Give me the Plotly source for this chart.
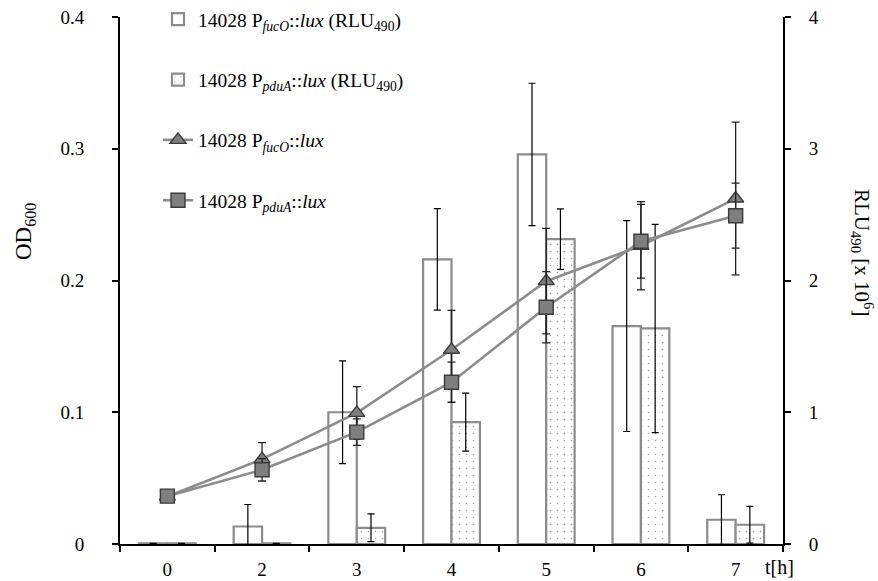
import plotly.graph_objects as go

# Sampling times (h) shown as categories
times = ["0", "2", "3", "4", "5", "6", "7"]

# Luminescence, RLU490 in units of 10^6 (right axis)
rlu_fuco = [0.005, 0.133, 1.0, 2.16, 2.957, 1.654, 0.184]
rlu_fuco_err = [None, 0.167, 0.39, 0.385, 0.54, 0.80, 0.19]
rlu_pdua = [0.005, 0.005, 0.123, 0.925, 2.314, 1.636, 0.146]
rlu_pdua_err = [None, None, 0.105, 0.22, 0.23, 0.79, 0.14]

# Growth, OD600 (left axis)
od_fuco = [0.036, 0.0644, 0.0995, 0.1474, 0.1995, 0.2264, 0.2622]
od_fuco_err = [0.002, 0.0125, 0.02, 0.03, 0.04, 0.0335, 0.058]
od_pdua = [0.0363, 0.0563, 0.0849, 0.1228, 0.1797, 0.2298, 0.2492]
od_pdua_err = [0.003, 0.0085, 0.01, 0.0152, 0.027, 0.028, 0.0247]

SERIF = "Liberation Serif, Times New Roman, serif"
BAR_EDGE = "#8c8c8c"
LINE_GREY = "#8c8c8c"
MARK_FILL = "#7f7f7f"
MARK_EDGE = "#3a3a3a"

# plot-area geometry in pixels (for placing free text)
W, H = 878, 581
L, R, T, B = 120, 95, 17, 37
PW, PH = W - L - R, H - T - B


def px_x(x):
    return (x - L) / PW


def px_y(y):
    return (H - B - y) / PH


fig = go.Figure()

bar_err = dict(type="data", visible=True, color="black", thickness=1.2, width=3.5)

fig.add_trace(go.Bar(
    x=times, y=rlu_fuco, yaxis="y",
    error_y=dict(array=rlu_fuco_err, **bar_err),
    name="14028 P<sub><i>fucO</i></sub>::<i>lux</i> (RLU<sub>490</sub>)",
    legendgroup="a",
    marker=dict(color="white", line=dict(color=BAR_EDGE, width=2.2)),
))
fig.add_trace(go.Bar(
    x=times, y=rlu_pdua, yaxis="y",
    error_y=dict(array=rlu_pdua_err, **bar_err),
    name="14028 P<sub><i>pduA</i></sub>::<i>lux</i> (RLU<sub>490</sub>)",
    legendgroup="b",
    marker=dict(color="white", line=dict(color=BAR_EDGE, width=2.2),
                pattern=dict(shape=".", size=7, solidity=0.04,
                             fgcolor="#333333", bgcolor="white")),
))

line_err = dict(type="data", visible=True, color="#222222", thickness=1.3, width=4)

fig.add_trace(go.Scatter(
    x=times, y=od_fuco, yaxis="y2", mode="lines+markers",
    error_y=dict(array=od_fuco_err, **line_err),
    name="14028 P<sub><i>fucO</i></sub>::<i>lux</i>",
    legendgroup="c",
    line=dict(color=LINE_GREY, width=2.6),
    marker=dict(symbol="triangle-up", size=14, color=MARK_FILL,
                line=dict(color=MARK_EDGE, width=1.4)),
))
fig.add_trace(go.Scatter(
    x=times, y=od_pdua, yaxis="y2", mode="lines+markers",
    error_y=dict(array=od_pdua_err, **line_err),
    name="14028 P<sub><i>pduA</i></sub>::<i>lux</i>",
    legendgroup="d",
    line=dict(color=LINE_GREY, width=2.6),
    marker=dict(symbol="square", size=14, color=MARK_FILL,
                line=dict(color=MARK_EDGE, width=1.4)),
))

axis_common = dict(
    showline=True, linecolor="black", linewidth=2,
    ticks="outside", tickcolor="black", tickwidth=2, ticklen=6,
    showgrid=False, zeroline=False,
    tickfont=dict(family=SERIF, size=19, color="black"),
)

fig.update_layout(
    width=W, height=H,
    margin=dict(l=L, r=R, t=T, b=B, autoexpand=False),
    paper_bgcolor="white", plot_bgcolor="white",
    barmode="group", bargap=0.4, bargroupgap=0,
    font=dict(family=SERIF, color="black"),
    xaxis=dict(type="category", tickson="boundaries",
               ticklabelstandoff=7, **axis_common),
    yaxis=dict(side="right", range=[0, 4], dtick=1,
               ticklabelstandoff=14, **axis_common),
    yaxis2=dict(side="left", overlaying="y", range=[0, 0.4], dtick=0.1,
                ticklabelstandoff=24, **axis_common),
    legend=dict(
        x=px_x(158), y=px_y(0), xanchor="left", yanchor="top",
        bgcolor="rgba(0,0,0,0)", borderwidth=0,
        font=dict(family=SERIF, size=19.5, color="black"),
        traceorder="grouped", tracegroupgap=32,
    ),
    showlegend=True,
)

# axis titles and the time unit label
label_pos = dict(xref="paper", yref="paper", xanchor="center",
                 yanchor="middle", showarrow=False)
fig.add_annotation(
    text="OD<sub>600</sub>", x=px_x(25), y=px_y(232), textangle=-90,
    font=dict(family=SERIF, size=23, color="black"), **label_pos,
)
fig.add_annotation(
    text="RLU<sub>490</sub> [x 10<sup>6</sup>]", x=px_x(863), y=px_y(252),
    textangle=90, font=dict(family=SERIF, size=21, color="black"),
    **label_pos,
)
fig.add_annotation(
    text="t[h]", x=px_x(779), y=px_y(567),
    font=dict(family=SERIF, size=20, color="black"), **label_pos,
)

fig.write_html("out.html")
